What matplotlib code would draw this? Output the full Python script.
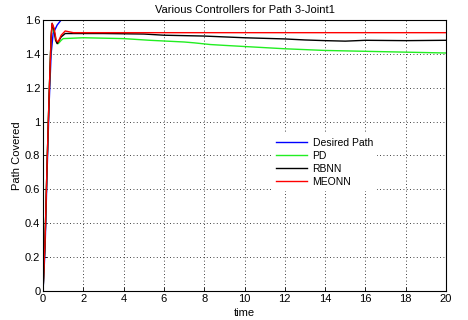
import matplotlib
matplotlib.use("Agg")
import matplotlib.pyplot as plt
import numpy as np

plt.rcParams['font.family'] = ['Liberation Sans', 'DejaVu Sans']

title = "Various Controllers for Path 3-Joint1"
xlabel = "time"
ylabel = "Path Covered"
labels = ["Desired Path", "PD", "RBNN", "MEONN"]
colors = ["#0000ff", "#22ee22", "#000000", "#ff0000"]

t_des = [0, 0.1, 0.2, 0.3, 0.4, 0.5, 0.7, 0.9, 1.0, 20]
y_des = [0, 0.25, 0.7, 1.1, 1.4, 1.52, 1.57, 1.6, 1.6, 1.6]

t_pd = [0, 0.1, 0.2, 0.3, 0.4, 0.45, 0.55, 0.65, 0.75, 0.9, 1.0, 2, 4, 5.3, 7, 7.5, 8.3, 9, 10.5, 12, 13, 14, 16, 18, 20]
y_pd = [0, 0.3, 0.75, 1.15, 1.5, 1.57, 1.53, 1.48, 1.46, 1.48, 1.49, 1.495, 1.49, 1.48, 1.47, 1.465, 1.455, 1.45, 1.44, 1.43, 1.425, 1.42, 1.415, 1.41, 1.405]

t_rb = [0, 0.1, 0.2, 0.3, 0.4, 0.45, 0.55, 0.62, 0.7, 0.9, 1.1, 3, 5, 6, 8, 10, 12, 13, 14, 15, 16, 18, 20]
y_rb = [0, 0.3, 0.75, 1.15, 1.5, 1.58, 1.54, 1.48, 1.46, 1.5, 1.52, 1.52, 1.517, 1.51, 1.505, 1.495, 1.488, 1.482, 1.478, 1.475, 1.48, 1.478, 1.48]

t_me = [0, 0.1, 0.2, 0.3, 0.4, 0.45, 0.55, 0.65, 0.75, 0.9, 1.1, 1.5, 2, 20]
y_me = [0, 0.3, 0.75, 1.15, 1.5, 1.58, 1.55, 1.48, 1.47, 1.51, 1.535, 1.525, 1.525, 1.525]

fig = plt.figure(figsize=(4.68, 3.2), dpi=100)
ax = fig.add_axes([0.092, 0.0906, 0.861, 0.847])

series = [(t_des, y_des), (t_pd, y_pd), (t_rb, y_rb), (t_me, y_me)]
for (t, y), lab, c in zip(series, labels, colors):
    ax.plot(t, y, color=c, lw=1.0, label=lab)

ax.set_xlim(0, 20)
ax.set_ylim(0, 1.6)
ax.set_xticks(np.arange(0, 21, 2))
yt = np.round(np.arange(0, 1.61, 0.2), 1)
ax.set_yticks(yt)
ax.set_yticklabels([("%g" % v) for v in yt])
ax.grid(True, color='black', linestyle=(0, (1, 3)), lw=0.6)
ax.tick_params(direction='in', labelsize=8, length=3, width=0.6, pad=2)
for s in ax.spines.values():
    s.set_linewidth(0.8)
ax.set_title(title, fontsize=8, pad=5)
ax.set_xlabel(xlabel, fontsize=8, labelpad=3)
ax.set_ylabel(ylabel, fontsize=8, labelpad=2)

leg = ax.legend(loc='upper left', bbox_to_anchor=(0.555, 0.6), fontsize=7.5, frameon=True,
                handlelength=3.0, handletextpad=0.5, labelspacing=0.3, borderpad=0.4)
leg.get_frame().set_edgecolor('white')
leg.get_frame().set_alpha(1)
leg.get_frame().set_linewidth(0)

fig.savefig("out.png", dpi=100)
